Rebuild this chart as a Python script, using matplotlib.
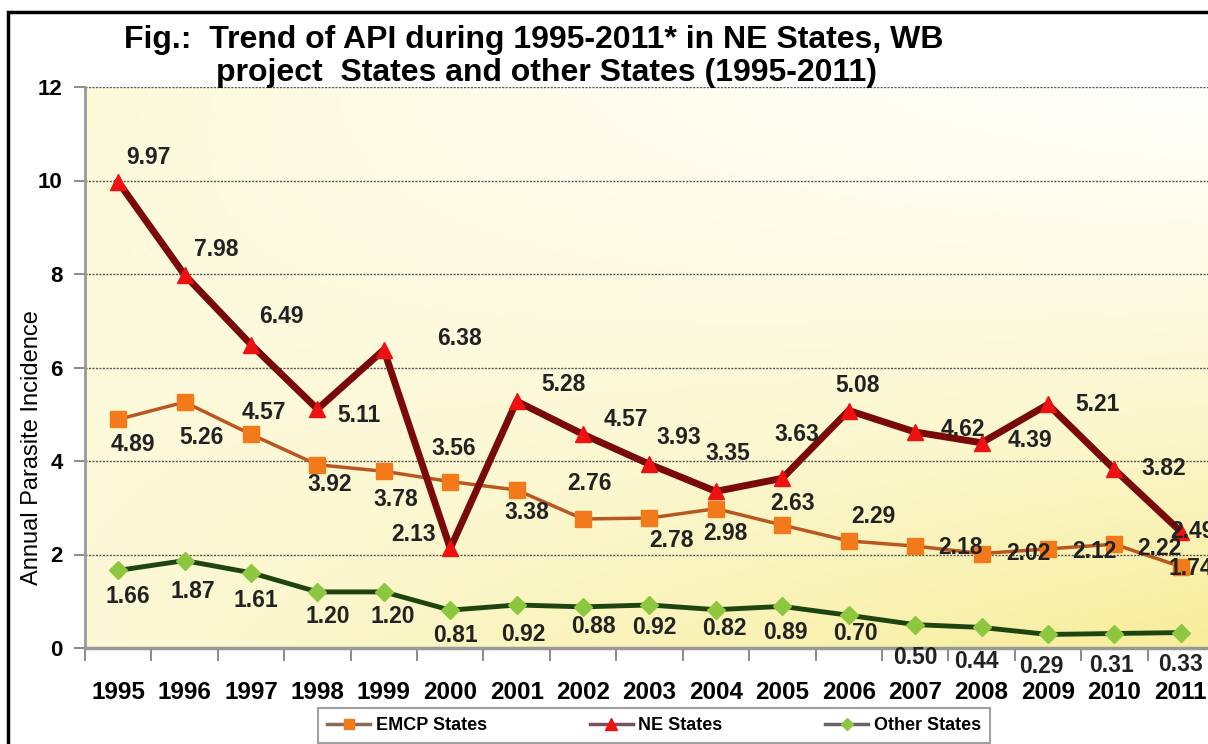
import numpy as np
import matplotlib
matplotlib.use("Agg")
import matplotlib.pyplot as plt
from matplotlib.lines import Line2D
from matplotlib.patches import Rectangle

plt.rcParams["font.family"] = ["Liberation Sans", "DejaVu Sans"]

years = [str(y) for y in range(1995, 2012)]
emcp = [4.89, 5.26, 4.57, 3.92, 3.78, 3.56, 3.38, 2.76, 2.78, 2.98, 2.63, 2.29, 2.18, 2.02, 2.12, 2.22, 1.74]
ne = [9.97, 7.98, 6.49, 5.11, 6.38, 2.13, 5.28, 4.57, 3.93, 3.35, 3.63, 5.08, 4.62, 4.39, 5.21, 3.82, 2.49]
other = [1.66, 1.87, 1.61, 1.20, 1.20, 0.81, 0.92, 0.88, 0.92, 0.82, 0.89, 0.70, 0.50, 0.44, 0.29, 0.31, 0.33]

# label offsets in pixels (dx, dy)
ne_off = [(30, 24), (32, 25), (30, 28), (42, -6), (76, 11), (-37, 14), (47, 17), (43, 15), (29, 27),
          (12, 38), (15, 44), (9, 25), (48, 3), (48, 2), (50, 0), (49, 1), (12, 0)]
emcp_off = [(15, -25), (17, -35), (13, 22), (12, -20), (12, -28), (3, 33), (10, -23), (6, 35), (22, -22),
            (10, -25), (10, 22), (25, 24), (45, -1), (47, 0), (46, -3), (45, -4), (10, -2)]
other_off = [(10, -26), (8, -31), (5, -28), (10, -25), (9, -25), (5, -25), (7, -30), (10, -20), (5, -23),
             (8, -19), (3, -26), (7, -18), (0, -33), (-5, -34), (-7, -32), (-3, -32), (0, -32)]

W, H = 1208, 744
fig = plt.figure(figsize=(W / 100, H / 100), dpi=100)
fig.patch.set_facecolor("white")
ax = fig.add_axes([85 / W, 1 - 648 / H, (1214 - 85) / W, (648 - 87) / H])

x = np.arange(len(years))
ax.set_xlim(-0.5, len(years) - 0.5)
ax.set_ylim(0, 12)

# yellow gradient background: pale at top right, deeper yellow toward the bottom right
gx, gy = np.meshgrid(np.linspace(0, 1, 300), np.linspace(0, 1, 200))  # gy: 0 top, 1 bottom
t = np.clip(gy ** 1.4 * (0.25 + 0.75 * gx) + 0.22 * (1 - gx) ** 2 * (1 - gy) + 0.12 * (1 - gx), 0, 1)
c0 = np.array([1.0, 1.0, 0.98])
c1 = np.array([0.97, 0.93, 0.60])
img = c0 + (c1 - c0) * t[..., None]
ax.imshow(img, extent=(-0.5, len(years) - 0.5, 0, 12), origin="upper", aspect="auto", zorder=0)

ax.set_yticks(range(0, 13, 2))
ax.set_yticklabels([str(v) for v in range(0, 13, 2)], fontsize=16, fontweight="bold")
for v in range(2, 13, 2):
    ax.axhline(v, color="#555555", lw=1.0, ls=(0, (1.5, 1)), zorder=1)

ax.set_xticks(x)
ax.set_xticklabels(years, fontsize=17.5, fontweight="bold")
ax.set_xticks(np.arange(-0.5, len(years), 1), minor=True)
ax.tick_params(axis="x", which="major", length=0, pad=24)
ax.tick_params(axis="x", which="minor", length=9, width=1.2, color="#777777", direction="out")
ax.tick_params(axis="y", length=8, width=1.2, color="#777777", pad=8)

for s in ["top", "right"]:
    ax.spines[s].set_visible(False)
ax.spines["left"].set_color("#999999")
ax.spines["left"].set_linewidth(2)
ax.spines["bottom"].set_color("#999999")
ax.spines["bottom"].set_linewidth(2.5)

ax.set_ylabel("Annual Parasite Incidence", fontsize=17, va="center")
ax.yaxis.set_label_coords(-0.047, 0.357)

ax.plot(x, emcp, color="#B8571F", lw=2.5, marker="s", ms=11, mfc="#F27A1A", mec="#F27A1A", zorder=3)
ax.plot(x, ne, color="#7A0A0A", lw=5, marker="^", ms=12, mfc="#EE1111", mec="#EE1111", zorder=4)
ax.plot(x, other, color="#1E4410", lw=3.5, marker="D", ms=9, mfc="#8DC63F", mec="#8DC63F", zorder=3)

for series, offs in [(ne, ne_off), (emcp, emcp_off), (other, other_off)]:
    for xi, v, (dx, dy) in zip(x, series, offs):
        ax.annotate(f"{v:.2f}", (xi, v), xytext=(dx, dy), textcoords="offset pixels",
                    ha="center", va="center", fontsize=16.5, fontweight="bold", color="#222222",
                    zorder=6, annotation_clip=False)

fig.text(534 / W, 1 - 40 / H, "Fig.:  Trend of API during 1995-2011* in NE States, WB",
         ha="center", va="center", fontsize=23, fontweight="bold")
fig.text(546 / W, 1 - 73 / H, "project  States and other States (1995-2011)",
         ha="center", va="center", fontsize=23, fontweight="bold")

handles = [
    Line2D([], [], color="#8B6A5A", lw=2.5, marker="s", ms=7, mfc="#F27A1A", mec="#F27A1A"),
    Line2D([], [], color="#7A5060", lw=2.5, marker="^", ms=8, mfc="#EE1111", mec="#EE1111"),
    Line2D([], [], color="#666666", lw=2.5, marker="D", ms=6, mfc="#8DC63F", mec="#8DC63F"),
]
leg = fig.legend(handles, ["EMCP States", "NE States", "Other States"], loc="upper center",
                 bbox_to_anchor=(318 / W, 0, 672 / W, 1 - 708 / H), mode="expand", ncol=3,
                 frameon=True, fancybox=False, edgecolor="#888888", prop={"weight": "bold", "size": 13},
                 handlelength=2.4, borderpad=0.5, handletextpad=0.3, borderaxespad=0)
leg.get_frame().set_linewidth(1.5)

fig.add_artist(Rectangle((8 / W, -0.1), 2, 1 + 0.1 - 12 / H, transform=fig.transFigure,
                         fill=False, edgecolor="black", lw=2.5))

fig.savefig("out.png", dpi=100)
